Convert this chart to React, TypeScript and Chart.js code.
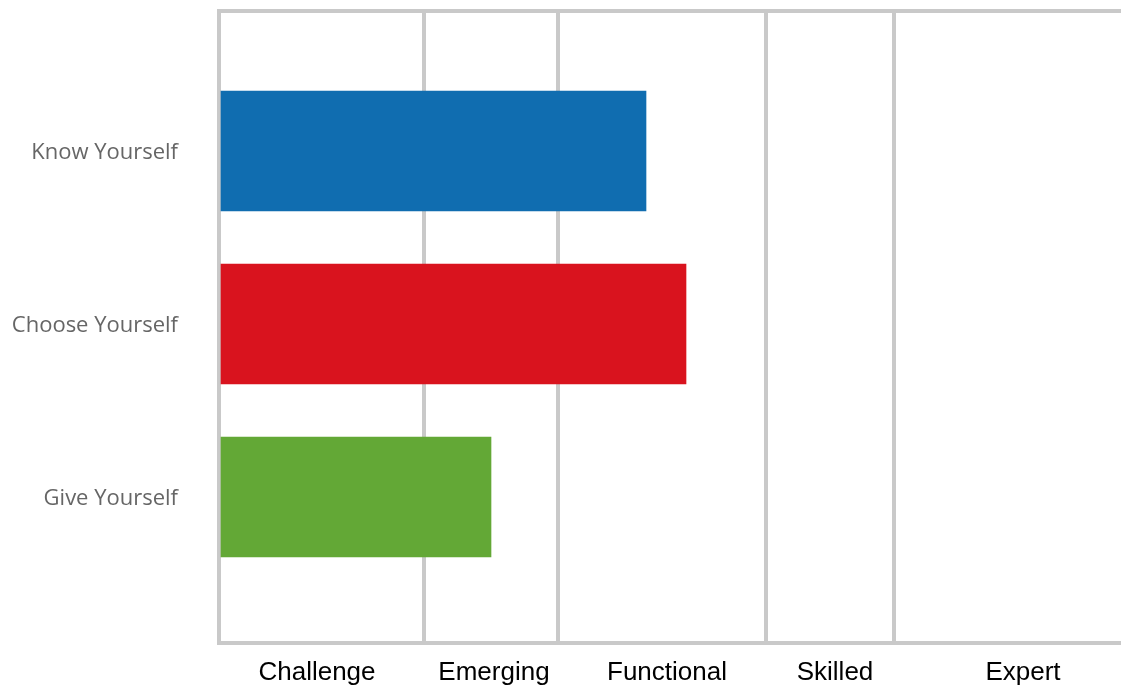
import React, { useEffect, useRef } from "react";
import { Chart, registerables } from "chart.js";

Chart.register(...registerables);

const categories = ["Know Yourself", "Choose Yourself", "Give Yourself"];
const scores = [427, 467, 272];
const barColors = ["#106db0", "#d9131e", "#63a836"];
const levelBoundaries = [0, 205, 339, 547, 675];
const levelLabels = ["Challenge", "Emerging", "Functional", "Skilled", "Expert"];
const levelLabelPositions = [98, 275, 448, 616, 804];
const scoreMax = 902;

const GRID = "#c9c9c9";

export default function App() {
  const ref = useRef<HTMLCanvasElement | null>(null);

  useEffect(() => {
    if (!ref.current) return;
    const labelMap = new Map<number, string>();
    levelLabelPositions.forEach((p, i) => labelMap.set(p, levelLabels[i]));
    const xTicks = [...levelBoundaries, ...levelLabelPositions].sort((a, b) => a - b);
    const yMin = -0.809;
    const yMax = 2.844;

    const chart = new Chart(ref.current, {
      type: "bar",
      data: {
        datasets: [
          {
            data: scores.map((s, i) => ({ x: s, y: i })),
            backgroundColor: barColors,
            borderWidth: 0,
            barThickness: 120,
          } as any,
        ],
      },
      options: {
        indexAxis: "y",
        animation: false,
        responsive: true,
        maintainAspectRatio: false,
        layout: { padding: { top: 11, right: 0, left: 0, bottom: 0 } },
        plugins: { legend: { display: false }, tooltip: { enabled: false } },
        scales: {
          x: {
            type: "linear",
            position: "bottom",
            min: 0,
            max: scoreMax,
            offset: false,
            afterBuildTicks: (scale: any) => {
              scale.ticks = xTicks.map((v) => ({ value: v }));
            },
            afterFit: (scale: any) => {
              scale.height = 43;
              scale.paddingLeft = 0;
              scale.paddingRight = 0;
              scale.paddingTop = 0;
              scale.paddingBottom = 0;
            },
            grid: {
              offset: false,
              drawTicks: false,
              lineWidth: 4,
              color: (ctx: any) =>
                ctx.tick && levelBoundaries.includes(ctx.tick.value) ? GRID : "rgba(0,0,0,0)",
            },
            border: { display: true, color: GRID, width: 4 },
            ticks: {
              autoSkip: false,
              maxRotation: 0,
              padding: 14,
              color: "#000",
              font: { family: "'Liberation Sans', Arial, sans-serif", size: 26 },
              callback: (v: any) => labelMap.get(Number(v)) ?? "",
            },
          },
          y: {
            type: "linear",
            reverse: true,
            min: yMin,
            max: yMax,
            offset: false,
            afterBuildTicks: (scale: any) => {
              scale.ticks = [yMin, 0, 1, 2, yMax].map((v) => ({ value: v }));
            },
            afterFit: (scale: any) => {
              scale.width = 219;
              scale.paddingLeft = 0;
              scale.paddingRight = 0;
              scale.paddingTop = 0;
              scale.paddingBottom = 0;
            },
            grid: {
              offset: false,
              drawTicks: false,
              lineWidth: 4,
              color: (ctx: any) =>
                ctx.tick && ctx.tick.value === yMin ? GRID : "rgba(0,0,0,0)",
            },
            border: { display: true, color: GRID, width: 4 },
            ticks: {
              autoSkip: false,
              padding: 41,
              labelOffset: 2,
              color: "#666",
              font: { family: "'Open Sans', sans-serif", size: 22 },
              callback: (v: any) => {
                const n = Number(v);
                return Number.isInteger(n) && categories[n] ? categories[n] : "";
              },
            },
          },
        },
      },
    });
    return () => chart.destroy();
  }, []);

  return (
    <div style={{ position: "fixed", left: 0, top: 0, width: 1121, height: 686, background: "#fff" }}>
      <canvas ref={ref} />
    </div>
  );
}
